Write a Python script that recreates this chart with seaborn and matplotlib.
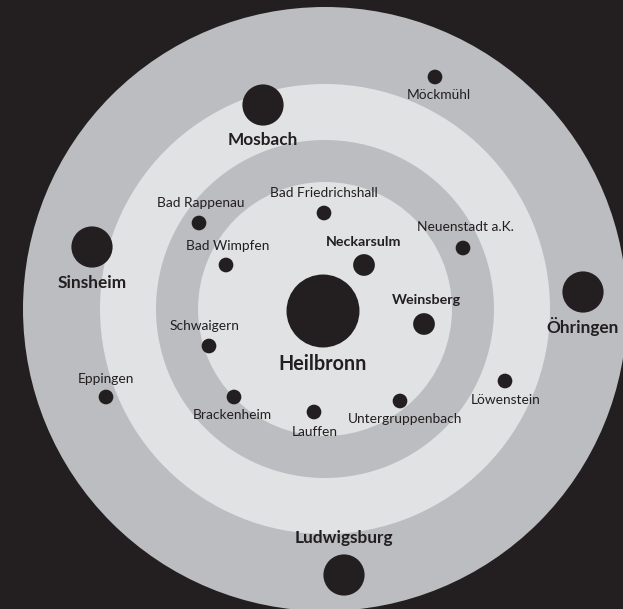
import matplotlib
matplotlib.use("Agg")
import matplotlib.pyplot as plt
import seaborn as sns
import pandas as pd
from matplotlib.patches import Circle

# ---- data (east / north offsets from the ring centre, in map units) ----
towns = ["Heilbronn", "Mosbach", "Möckmühl", "Sinsheim", "Öhringen", "Ludwigsburg",
         "Neckarsulm", "Weinsberg", "Bad Friedrichshall", "Bad Rappenau", "Bad Wimpfen",
         "Neuenstadt a.K.", "Schwaigern", "Eppingen", "Brackenheim", "Lauffen",
         "Untergruppenbach", "Löwenstein"]
east = [-2, -62, 110, -233, 258, 19, 39, 99, -1, -126, -99, 138, -116, -219, -91, -11, 75, 180]
north = [-2, 204, 232, 62, 17, -266, 44, -15, 96, 86, 44, 61, -37, -88, -88, -103, -92, -72]
tier = ["city", "large", "small", "large", "large", "large", "medium", "medium", "small",
        "small", "small", "small", "small", "small", "small", "small", "small", "small"]
ring_radii = [302, 225, 169, 127]

# ---- styling ----
BG = "#231f20"
GREY = "#bcbdc0"
LIGHT = "#e1e2e4"
INK = "#231f20"
ring_colors = [GREY, LIGHT, GREY, LIGHT]
size_map = {"city": 2760, "large": 880, "medium": 245, "small": 112}
font_map = {"city": (14.2, "bold"), "large": (12.4, "bold"), "medium": (10.3, "bold"),
            "small": (9.9, "normal")}
# label offset in points (positive = above)
label_dy = [-38, -25, -13, -26, -25, 27, 16.5, 17.5, 14.5, 14.5, 14, 15, 14.5, 13,
            -13, -14.5, -13, -13.5]
label_dx = [0, 0, 3, 0, 0, 0, 0, 1.5, 0, 1.5, 1.5, 1.5, -3, 0, -1.5, 0.5, 3.5, 0.5]

sns.set_theme(style="white")
plt.rcParams["font.family"] = ["Lato", "DejaVu Sans"]

fig = plt.figure(figsize=(6.23, 6.09), dpi=100)
fig.patch.set_facecolor(BG)
ax = fig.add_axes([0, 0, 1, 1])
ax.set_facecolor(BG)
ax.set_xlim(-325, 298)
ax.set_ylim(-300, 309)
ax.set_axis_off()

for r, c in zip(ring_radii, ring_colors):
    ax.add_patch(Circle((0, 0), r, facecolor=c, edgecolor="none", zorder=1))

df = pd.DataFrame({"town": towns, "east": east, "north": north, "tier": tier})
sns.scatterplot(data=df, x="east", y="north", size="tier", sizes=size_map,
                color=INK, edgecolor="none", linewidth=0, legend=False, ax=ax, zorder=3)
ax.set_xlim(-325, 298)
ax.set_ylim(-300, 309)

for t, x, y, tr, dx, dy in zip(towns, east, north, tier, label_dx, label_dy):
    fs, fw = font_map[tr]
    ax.annotate(t, (x, y), xytext=(dx, dy), textcoords="offset points",
                ha="center", va="center", fontsize=fs, fontweight=fw,
                color=INK, zorder=4)

fig.savefig("out.png", dpi=100, facecolor=BG)
